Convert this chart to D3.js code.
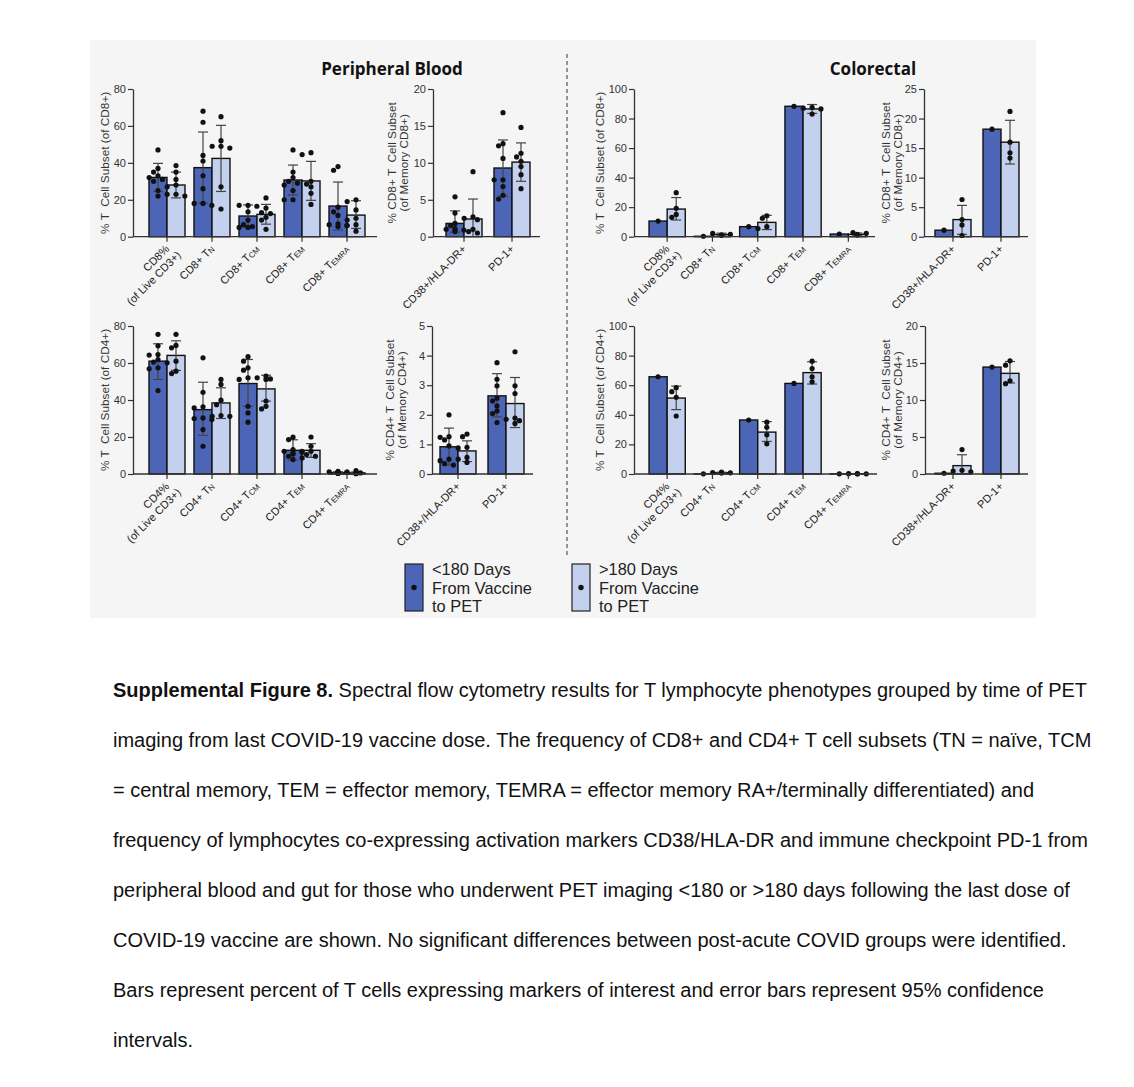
<!DOCTYPE html>
<html><head><meta charset="utf-8">
<script src="https://cdn.jsdelivr.net/npm/d3@7/dist/d3.min.js"></script>
<style>
body{margin:0;background:#fff;}
svg text{font-family:"Liberation Sans",Arial,sans-serif;}
</style></head><body>
<svg id="c" width="1134" height="1087"></svg>
<script>
// ---------- DATA ----------
const mainCd8Cats = ["CD8%|(of Live CD3+)", "CD8+ T_N", "CD8+ T_CM", "CD8+ T_EM", "CD8+ T_EMRA"];
const mainCd4Cats = ["CD4%|(of Live CD3+)", "CD4+ T_N", "CD4+ T_CM", "CD4+ T_EM", "CD4+ T_EMRA"];
const memCats = ["CD38+/HLA-DR+", "PD-1+"];
const seriesNames = ["<180 Days|From Vaccine|to PET", ">180 Days|From Vaccine|to PET"];
const sectionTitles = ["Peripheral Blood", "Colorectal"];

// Peripheral blood, CD8
const pbCd8Early = [32.1, 37.4, 11.2, 30.7, 16.6];
const pbCd8Late = [28.0, 42.4, 12.1, 30.2, 11.7];
const pbCd8EarlyCI = [[24.5, 39.7], [18.2, 56.7], [5.2, 17.2], [22.6, 38.8], [3.6, 29.6]];
const pbCd8LateCI = [[21.0, 35.0], [24.5, 60.3], [6.8, 17.5], [19.7, 40.8], [4.5, 19.5]];
const pbCd8EarlyPts = [[47, 37, 35, 33, 32, 31, 30, 25, 22], [68, 62, 44, 41, 33, 26, 18, 18, 17],
  [17, 17, 16.5, 13.5, 9, 6.5, 5.5, 5, 5], [47, 35, 32, 30, 29, 28, 25, 20, 20], [38, 36, 16, 13.5, 11.5, 7, 6.5, 6, 5.5]];
const pbCd8LatePts = [[38.5, 35, 31, 28, 27, 23, 23, 22], [65, 52, 49, 49, 48, 27, 15],
  [21, 15.5, 13, 12.5, 10.5, 9, 4], [45.5, 44.5, 30, 28.5, 27, 23.5, 17.5], [20, 19, 14.5, 10, 9, 6.5, 6, 3]];

// Peripheral blood, CD8 memory
const pbCd8MemEarly = [1.8, 9.3];
const pbCd8MemLate = [2.4, 10.1];
const pbCd8MemEarlyCI = [[0.6, 3.5], [5.5, 13.1]];
const pbCd8MemLateCI = [[0, 5.1], [7.5, 12.7]];
const pbCd8MemEarlyPts = [[5.4, 3.2, 1.8, 1.5, 1.1, 1.0, 0.9, 0.9, 0.7], [16.8, 12.6, 12.3, 10.6, 7.7, 7.7, 6.8, 5.6, 5.1]];
const pbCd8MemLatePts = [[8.8, 2.7, 2.5, 2.3, 1.0, 0.7, 0.5], [14.8, 11.3, 10.8, 10.2, 9.5, 8.4, 6.5]];

// Colorectal, CD8
const crCd8Early = [10.6, 0.3, 6.8, 88.3, 1.8];
const crCd8Late = [18.7, 1.5, 9.7, 86.5, 1.6];
const crCd8EarlyCI = [null, null, null, null, null];
const crCd8LateCI = [[11.3, 26.5], [0.6, 2.4], [4.8, 14.5], [83.5, 89.5], [0.7, 2.5]];
const crCd8EarlyPts = [[10.6], [0.3], [6.8], [88.3], [1.8]];
const crCd8LatePts = [[29.8, 19.2, 15.1, 13.1], [1.0, 2.2, 1.6, 1.1], [14.2, 12.5, 6.8, 5.5], [87.5, 87, 86.5, 83], [1.1, 2.7, 2.3, 1.6]];

// Colorectal, CD8 memory
const crCd8MemEarly = [1.1, 18.2];
const crCd8MemLate = [2.9, 16.0];
const crCd8MemEarlyCI = [null, null];
const crCd8MemLateCI = [[0.4, 5.3], [12.3, 19.7]];
const crCd8MemEarlyPts = [[1.1], [18.2]];
const crCd8MemLatePts = [[6.3, 2.9, 2.0, 0.2], [21.2, 16, 14.2, 13.3]];

// Peripheral blood, CD4
const pbCd4Early = [61.0, 34.8, 48.9, 12.8, 0.8];
const pbCd4Late = [64.1, 38.4, 46.0, 12.8, 0.6];
const pbCd4EarlyCI = [[51.1, 70.4], [20.9, 49.6], [36.6, 61.9], [7.5, 18.5], [0.4, 1.2]];
const pbCd4LateCI = [[56.0, 72.0], [30.0, 46.6], [39.4, 53.4], [9.0, 16.4], [0.1, 1.1]];
const pbCd4EarlyPts = [[75.5, 69.3, 64.6, 64.3, 61.9, 60.5, 57.4, 56.9, 45.1], [62.8, 44.2, 36.3, 35.7, 30.3, 30, 29.4, 24, 15],
  [63.4, 61, 57.4, 56.1, 52, 51.1, 36.6, 33, 28], [19.9, 18.6, 13.2, 12.3, 12.3, 11.4, 10.8, 9.6, 7.8], [1.5, 1.2, 1.0, 0.9, 0.8, 0.6, 0.5, 0.4, 0.3]];
const pbCd4LatePts = [[75.5, 69.5, 68.2, 61, 60.1, 55.6, 54.3], [51.1, 48.4, 39.9, 37.5, 31.6, 31.2, 31.2],
  [52.9, 52, 51.4, 51.1, 39.4, 36.6, 35.2], [20, 15, 12.3, 11.7, 10.5, 9.6, 8.7], [1.8, 1.0, 0.6, 0.5, 0.4, 0.3, 0.2]];

// Peripheral blood, CD4 memory
const pbCd4MemEarly = [0.92, 2.64];
const pbCd4MemLate = [0.78, 2.38];
const pbCd4MemEarlyCI = [[0.3, 1.55], [1.93, 3.39]];
const pbCd4MemLateCI = [[0.42, 1.12], [1.57, 3.26]];
const pbCd4MemEarlyPts = [[2.0, 1.26, 1.24, 1.15, 0.95, 0.5, 0.45, 0.35, 0.3], [3.76, 3.2, 2.98, 2.56, 2.47, 2.3, 2.13, 2.04, 1.74]];
const pbCd4MemLatePts = [[1.35, 1.26, 0.9, 0.88, 0.56, 0.5, 0.39], [4.13, 2.98, 2.72, 1.89, 1.85, 1.8, 1.71]];

// Colorectal, CD4
const crCd4Early = [65.7, 0.1, 36.5, 61.2, 0.1];
const crCd4Late = [51.3, 0.9, 28.3, 68.5, 0.15];
const crCd4EarlyCI = [null, null, null, null, null];
const crCd4LateCI = [[43.5, 59.4], [0.5, 1.2], [22.0, 35.4], [60.8, 75.8], [0.05, 0.25]];
const crCd4EarlyPts = [[65.7], [0.1], [36.5], [61.2], [0.1]];
const crCd4LatePts = [[58.3, 55.6, 51.8, 39.2], [1.2, 1.0, 0.8, 0.6], [35, 31.6, 26.5, 20.4], [76.2, 71.3, 65.7, 62.3], [0.2, 0.2, 0.1, 0.1]];

// Colorectal, CD4 memory
const crCd4MemEarly = [0.1, 14.45];
const crCd4MemLate = [1.13, 13.6];
const crCd4MemEarlyCI = [null, null];
const crCd4MemLateCI = [[0, 2.6], [12.3, 15.2]];
const crCd4MemEarlyPts = [[0.1], [14.45]];
const crCd4MemLatePts = [[3.3, 0.5, 0.4, 0.3], [15.3, 14.7, 12.6, 12.2]];

const captionLines = [
  "Spectral flow cytometry results for T lymphocyte phenotypes grouped by time of PET",
  "imaging from last COVID-19 vaccine dose. The frequency of CD8+ and CD4+ T cell subsets (TN = naïve, TCM",
  "= central memory, TEM = effector memory, TEMRA = effector memory RA+/terminally differentiated) and",
  "frequency of lymphocytes co-expressing activation markers CD38/HLA-DR and immune checkpoint PD-1 from",
  "peripheral blood and gut for those who underwent PET imaging <180 or >180 days following the last dose of",
  "COVID-19 vaccine are shown. No significant differences between post-acute COVID groups were identified.",
  "Bars represent percent of T cells expressing markers of interest and error bars represent 95% confidence",
  "intervals."
];
const captionLead = "Supplemental Figure 8.";

// ---------- STYLE ----------
const DARK = "#4c65b7", LIGHT = "#c4d1ee";
const svg = d3.select("#c");
svg.append("rect").attr("x", 90).attr("y", 40).attr("width", 946).attr("height", 578).attr("fill", "#f5f5f5");

function swarm(vals, y, cx, r, maxOff) {
  const placed = [];
  return vals.map(v => {
    const py = y(v);
    const cands = [0];
    for (let k = 1; k < 6; k++) { cands.push(-k * r * 1.7, k * r * 1.7); }
    let off = 0;
    for (const c of cands) {
      if (Math.abs(c) > maxOff) continue;
      if (placed.every(p => Math.hypot(p[0] - (cx + c), p[1] - py) >= r * 1.9)) { off = c; break; }
    }
    placed.push([cx + off, py]);
    return [cx + off, py];
  });
}

function label(g, txt, fs) {
  const parts = txt.split("_");
  const t = g.append("text").attr("text-anchor", "end").attr("fill", "#222").attr("font-size", fs);
  t.append("tspan").text(parts[0]);
  if (parts[1]) t.append("tspan").attr("font-size", fs * 0.72).attr("dy", 0.5).text(parts[1]);
  return t;
}

function panel(c) {
  const y = d3.scaleLinear().domain([0, c.max]).range([c.bottom, c.top]);
  const x = d3.scaleBand().domain(c.cats).range(c.band).paddingInner(c.pIn).paddingOuter(c.pOut);
  const bw = x.bandwidth() / 2;
  const g = svg.append("g");

  const ax = g.append("g").attr("transform", `translate(${c.axisX},0)`)
    .call(d3.axisLeft(y).tickValues(d3.range(0, c.max + c.step / 2, c.step)).tickFormat(d3.format("~g"))
      .tickSize(5).tickSizeOuter(0).tickPadding(2));
  ax.select(".domain").attr("stroke", "#333").attr("stroke-width", 1.3);
  ax.selectAll(".tick line").attr("stroke", "#333").attr("stroke-width", 1.2);
  ax.selectAll(".tick text").attr("font-size", 11).attr("fill", "#333").attr("font-family", "Liberation Sans, Arial, sans-serif");

  const ymid = (c.top + c.bottom) / 2;
  c.ylabel.forEach((ln, i) => {
    g.append("text").attr("transform", `translate(${c.labelX + i * 11.5},${ymid}) rotate(-90)`)
      .attr("text-anchor", "middle").attr("font-size", 11.8).attr("fill", "#333")
      .style("white-space", "pre").text(ln);
  });

  const series = [
    { vals: c.early, ci: c.earlyCI, pts: c.earlyPts, fill: DARK, off: 0 },
    { vals: c.late, ci: c.lateCI, pts: c.latePts, fill: LIGHT, off: bw }
  ];
  series.forEach(s => {
    g.selectAll(null).data(c.cats).enter().append("rect")
      .attr("x", d => x(d) + s.off).attr("width", bw)
      .attr("y", (d, i) => y(s.vals[i])).attr("height", (d, i) => y(0) - y(s.vals[i]))
      .attr("fill", s.fill).attr("stroke", "#111").attr("stroke-width", 1.4);
  });
  series.forEach(s => {
    c.cats.forEach((d, i) => {
      const ci = s.ci[i];
      if (!ci) return;
      const cx = x(d) + s.off + bw / 2;
      const eg = g.append("g").attr("stroke", "#444").attr("stroke-width", 1.2);
      eg.append("line").attr("x1", cx).attr("x2", cx).attr("y1", y(ci[0])).attr("y2", y(ci[1]));
      eg.append("line").attr("x1", cx - 5).attr("x2", cx + 5).attr("y1", y(ci[1])).attr("y2", y(ci[1]));
      if (ci[0] > 0) eg.append("line").attr("x1", cx - 5).attr("x2", cx + 5).attr("y1", y(ci[0])).attr("y2", y(ci[0]));
    });
  });
  series.forEach(s => {
    c.cats.forEach((d, i) => {
      const cx = x(d) + s.off + bw / 2;
      const pos = swarm(s.pts[i], y, cx, 2.6, bw / 2 + 2);
      g.selectAll(null).data(pos).enter().append("circle")
        .attr("cx", p => p[0]).attr("cy", p => p[1]).attr("r", 2.6).attr("fill", "#111");
    });
  });

  g.append("line").attr("x1", c.axisX).attr("x2", c.axisEnd).attr("y1", y(0)).attr("y2", y(0))
    .attr("stroke", "#333").attr("stroke-width", 1.3);
  c.cats.forEach(d => {
    const cx = x(d) + x.bandwidth() / 2;
    g.append("line").attr("x1", cx).attr("x2", cx).attr("y1", y(0)).attr("y2", y(0) + 5)
      .attr("stroke", "#333").attr("stroke-width", 1.2);
    const lines = d.split("|");
    const lg = g.append("g").attr("transform", `translate(${cx + 3},${y(0) + 13}) rotate(-45)`);
    lines.forEach((ln, k) => { label(lg, ln, 11).attr("y", k * 12.5).attr("x", k * 4); });
  });
}

const rowTop = [89, 326], rowBottom = [236.7, 474];
const mainP = (cats, e, l, eci, lci, ep, lp, max, step, row, axisX, axisEnd, band, ylabel, labelX) =>
  panel({ cats, early: e, late: l, earlyCI: eci, lateCI: lci, earlyPts: ep, latePts: lp, max, step,
    top: rowTop[row], bottom: rowBottom[row], axisX, axisEnd, band, pIn: 0.2, pOut: 0.1, ylabel, labelX });
const memP = (cats, e, l, eci, lci, ep, lp, max, step, row, axisX, axisEnd, band, ylabel, labelX) =>
  panel({ cats, early: e, late: l, earlyCI: eci, lateCI: lci, earlyPts: ep, latePts: lp, max, step,
    top: rowTop[row], bottom: rowBottom[row], axisX, axisEnd, band, pIn: 0.25, pOut: 0.125, ylabel, labelX });

mainP(mainCd8Cats, pbCd8Early, pbCd8Late, pbCd8EarlyCI, pbCd8LateCI, pbCd8EarlyPts, pbCd8LatePts, 80, 20, 0, 133, 377, [144.5, 369.5], ["% T  Cell Subset (of CD8+)"], 109);
memP(memCats, pbCd8MemEarly, pbCd8MemLate, pbCd8MemEarlyCI, pbCd8MemLateCI, pbCd8MemEarlyPts, pbCd8MemLatePts, 20, 5, 0, 433, 540, [440, 536], ["% CD8+ T  Cell Subset", "(of Memory CD8+)"], 396);
mainP(mainCd8Cats, crCd8Early, crCd8Late, crCd8EarlyCI, crCd8LateCI, crCd8EarlyPts, crCd8LatePts, 100, 20, 0, 634, 875, [644.5, 871], ["% T  Cell Subset (of CD8+)"], 604);
memP(memCats, crCd8MemEarly, crCd8MemLate, crCd8MemEarlyCI, crCd8MemLateCI, crCd8MemEarlyPts, crCd8MemLatePts, 25, 5, 0, 924, 1028, [929, 1025], ["% CD8+ T  Cell Subset", "(of Memory CD8+)"], 890);
mainP(mainCd4Cats, pbCd4Early, pbCd4Late, pbCd4EarlyCI, pbCd4LateCI, pbCd4EarlyPts, pbCd4LatePts, 80, 20, 1, 133, 377, [144.5, 369.5], ["% T  Cell Subset (of CD4+)"], 109);
memP(memCats, pbCd4MemEarly, pbCd4MemLate, pbCd4MemEarlyCI, pbCd4MemLateCI, pbCd4MemEarlyPts, pbCd4MemLatePts, 5, 1, 1, 432, 533, [434, 530], ["% CD4+ T  Cell Subset", "(of Memory CD4+)"], 394);
mainP(mainCd4Cats, crCd4Early, crCd4Late, crCd4EarlyCI, crCd4LateCI, crCd4EarlyPts, crCd4LatePts, 100, 20, 1, 634, 877, [644.5, 871], ["% T  Cell Subset (of CD4+)"], 604);
memP(memCats, crCd4MemEarly, crCd4MemLate, crCd4MemEarlyCI, crCd4MemLateCI, crCd4MemEarlyPts, crCd4MemLatePts, 20, 5, 1, 925, 1028, [929, 1025], ["% CD4+ T  Cell Subset", "(of Memory CD4+)"], 890);

[[392, sectionTitles[0]], [873, sectionTitles[1]]].forEach(([cx, t]) => {
  svg.append("text").attr("x", cx).attr("y", 75).attr("text-anchor", "middle")
    .attr("font-size", 17).attr("font-weight", 700).attr("fill", "#111")
    .style("font-family", "'Open Sans', sans-serif").text(t);
});
svg.append("line").attr("x1", 567).attr("x2", 567).attr("y1", 54).attr("y2", 558)
  .attr("stroke", "#444").attr("stroke-width", 1.1).attr("stroke-dasharray", "4,3");

[[405, DARK, 0], [572, LIGHT, 1]].forEach(([lx, fill, i]) => {
  svg.append("rect").attr("x", lx).attr("y", 564).attr("width", 18).attr("height", 47)
    .attr("fill", fill).attr("stroke", "#222").attr("stroke-width", 1.2);
  svg.append("circle").attr("cx", lx + 9).attr("cy", 587.5).attr("r", 2.7).attr("fill", "#111");
  seriesNames[i].split("|").forEach((ln, k) => {
    svg.append("text").attr("x", lx + 27).attr("y", 575 + k * 18.6).attr("font-size", 16.4)
      .attr("fill", "#222").style("font-family", "'Liberation Sans', Arial, sans-serif").text(ln);
  });
});

const cap = svg.append("g").attr("font-size", 20).attr("fill", "#111");
captionLines.forEach((ln, i) => {
  const t = cap.append("text").attr("x", 113).attr("y", 697 + i * 50);
  if (i === 0) {
    t.append("tspan").attr("font-weight", 700).text(captionLead);
    t.append("tspan").text(" " + ln);
  } else t.text(ln);
});
</script></body></html>
